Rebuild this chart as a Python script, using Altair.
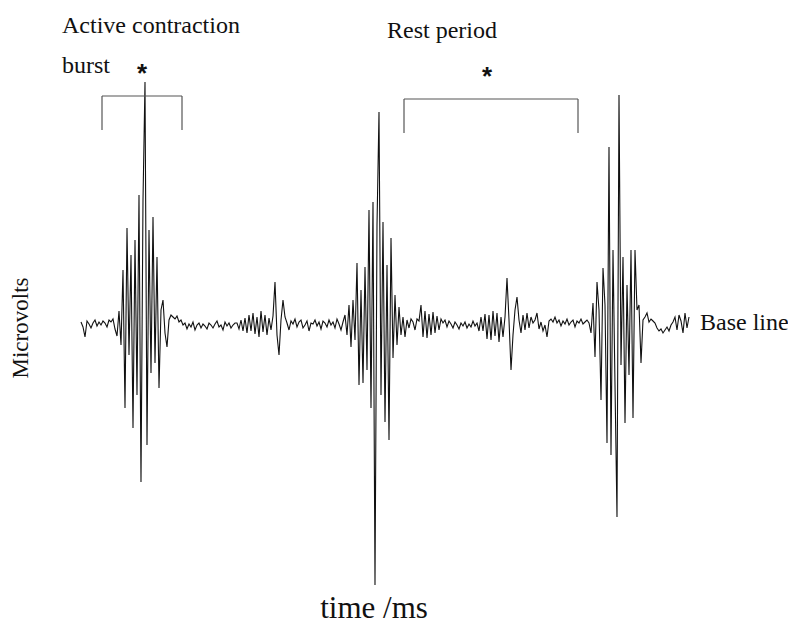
import altair as alt
import pandas as pd

seg_rest1 = [3, -2, -12, 4, 1, -3, 2, 5, -1, 3, 0, 4, 2, -2, 5, 3, 6, -4]
seg_burst1 = [-11, 14, -20, 55, -83, 97, -30, 70, -103, 85, -70, 130, -157, 125,
              243, -120, 95, -48, 108, -38, 68, -63, 15, 25, -8, -22, 5, 10]
seg_rest2 = [8, 6, 9, 3, 5, 0, 2, -4, 1, -2, 3, -5, 0, 2, -3, 1, -1, -4, 2, 0,
             -3, 1, 4, -2, 0, -5, 3, -1, 2, -3, 0, 2]
seg_small1 = [2, -4, 5, -6, 7, -8, 10, -6, 12, -9, 8, -12, 14, -7, 10, -10,
              7, -5, 9, 43, -10, -30, 5, 25, 8]
seg_rest3 = [2, -5, 4, 1, 6, -2, 3, 5, -3, 0, 4, -6, 2, 1, 5, -1, 3, -4, 4, 2,
             -2, 5, 0, 3, -3, 6, 1, -5, 3]
seg_burst2 = [10, -10, 20, -22, 25, -15, 62, -60, 35, -58, 58, -45, 115, -83, 123,
              -260, 100, 213, -70, 103, -97, 60, -115, 87, -33, 30, -20, 18, -10,
              8, -12, 5, -3, 6]
seg_rest4 = [3, -5, 6, 4, 20, -12, 14, -13, 11, -10, 13, -8, 9, -5, 6, 2, 5, -2,
             4, 1, -3, 3, 0, -4, 2, -1, 3, -3, 1, -2, 4, -1]
seg_small2 = [2, -6, 8, -6, 11, -14, 10, -15, 14, -11, 12, -17, 8, -12, 8, 47, 5,
              -45, -10, 15, 28, 5, -8, 10, -5, 12, -3, 8, 2, 5, 12, -4, 3, -6, 0,
              -12, 4]
seg_rest5 = [6, 3, 8, 2, 5, -1, 4, 1, 6, 0, 3, 5, -2, 4, 2, 6, 1, 3, 5]
seg_burst3 = [2, -8, 22, -32, 43, 15, -75, 57, 20, -118, 178, -130, 75, -60, -192,
              230, -40, 68, -98, 40, -50, 75, -93, 75, 15, 20, -38, 5, 8, 12, 3, 6]
seg_rest6 = [4, 2, -3, -6, -4, -8, -5, -2, -6, 0, 3, 8, -5, 10, 4, -8, 12, -3, 8]

signal_uv = (seg_rest1 + seg_burst1 + seg_rest2 + seg_small1 + seg_rest3 +
             seg_burst2 + seg_rest4 + seg_small2 + seg_rest5 + seg_burst3 +
             seg_rest6)
SAMPLE_MS = 2
time_ms = [i * SAMPLE_MS for i in range(len(signal_uv))]

# ---- annotation brackets (time ms, microvolts) ----
bracket_start = [21, 323]
bracket_end = [101, 497]
bracket_top = [229, 226]
bracket_bottom = [195, 192]

# ---- labels ----
label_text = ["Active contraction", "burst", "Rest period", "Base line"]
label_t = [-19, -19, 306, 619]
label_v = [292, 252, 287, -5]
star_t = [61, 406]
star_v = [243, 240]

X_DOMAIN = [-81, 707]
Y_DOMAIN = [-301, 325]

xs = alt.Scale(domain=X_DOMAIN, nice=False, zero=False)
ys = alt.Scale(domain=Y_DOMAIN, nice=False, zero=False)

sig = pd.DataFrame({"t": time_ms, "v": signal_uv})

line = alt.Chart(sig).mark_line(stroke="#111111", strokeWidth=1.1, clip=False).encode(
    x=alt.X("t:Q", scale=xs, axis=None),
    y=alt.Y("v:Q", scale=ys, axis=None),
)

hdf = pd.DataFrame({"x": bracket_start, "x2": bracket_end, "y": bracket_top})
vdf = pd.DataFrame({
    "x": bracket_start + bracket_end,
    "y": bracket_top + bracket_top,
    "y2": bracket_bottom + bracket_bottom,
})
hrule = alt.Chart(hdf).mark_rule(color="#555555", strokeWidth=1.2).encode(
    x=alt.X("x:Q", scale=xs, axis=None), x2="x2:Q",
    y=alt.Y("y:Q", scale=ys, axis=None))
vrule = alt.Chart(vdf).mark_rule(color="#555555", strokeWidth=1.2).encode(
    x=alt.X("x:Q", scale=xs, axis=None),
    y=alt.Y("y:Q", scale=ys, axis=None), y2="y2:Q")

ldf = pd.DataFrame({"t": label_t, "v": label_v, "txt": label_text})
labels = alt.Chart(ldf).mark_text(
    font="Liberation Serif", fontSize=24, align="left", baseline="alphabetic",
    color="#111111").encode(
    x=alt.X("t:Q", scale=xs, axis=None),
    y=alt.Y("v:Q", scale=ys, axis=None), text="txt:N")

sdf = pd.DataFrame({"t": star_t, "v": star_v, "txt": ["*", "*"]})
stars = alt.Chart(sdf).mark_text(
    font="Liberation Sans", fontSize=26, fontWeight="bold", align="center",
    baseline="alphabetic", color="#111111").encode(
    x=alt.X("t:Q", scale=xs, axis=None),
    y=alt.Y("v:Q", scale=ys, axis=None), text="txt:N")

ydf = pd.DataFrame({"t": [-60], "v": [-3], "txt": ["Microvolts"]})
ylab = alt.Chart(ydf).mark_text(
    font="Liberation Serif", fontSize=23, align="center", baseline="middle",
    angle=270, color="#111111").encode(
    x=alt.X("t:Q", scale=xs, axis=None),
    y=alt.Y("v:Q", scale=ys, axis=None), text="txt:N")

xdf = pd.DataFrame({"t": [293], "v": [-293], "txt": ["time /ms"]})
xlab = alt.Chart(xdf).mark_text(
    font="Liberation Serif", fontSize=31, align="center", baseline="alphabetic",
    color="#111111").encode(
    x=alt.X("t:Q", scale=xs, axis=None),
    y=alt.Y("v:Q", scale=ys, axis=None), text="txt:N")

chart = alt.layer(line, hrule, vrule, labels, stars, ylab, xlab).properties(
    width=788, height=626, padding=0,
    autosize=alt.AutoSizeParams(type="none"),
    background="white",
).configure_view(stroke=None)

chart.save("out.html", embed_options={"renderer": "svg", "actions": False})
